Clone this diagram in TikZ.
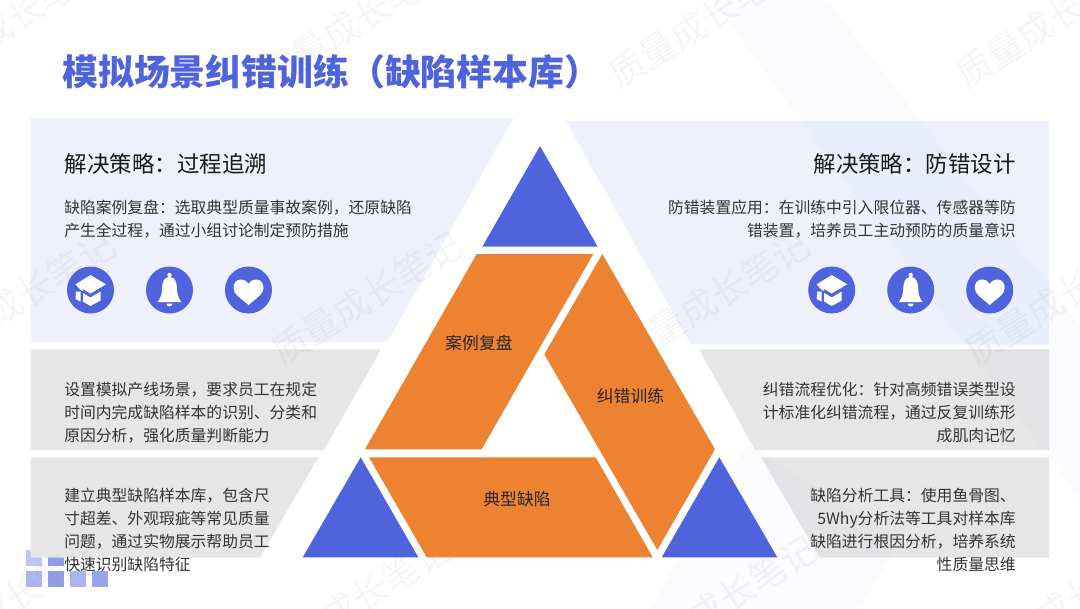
\documentclass[tikz,border=0pt]{standalone}
\usepackage{fontspec}
\setmainfont{Noto Sans CJK SC}
\usepackage{tikz}
\usetikzlibrary{positioning}

\definecolor{mainblue}{HTML}{4F63DC}
\definecolor{mainorange}{HTML}{ED8231}
\definecolor{panelblue}{HTML}{EEF0FC}
\definecolor{panelgray}{HTML}{E6E6E6}

\begin{document}
\begin{tikzpicture}[
    x=0.75pt, y=-0.75pt,
    node distance=23.6pt,
    panel/.style={fill=panelblue},
    graypanel/.style={fill=panelgray},
    tri/.style={fill=mainblue},
    piece/.style={fill=mainorange},
    band/.style={fill=mainblue, opacity=0.018},
    title/.style={inner sep=0pt, anchor=west, text=mainblue, font=\bfseries\fontsize{26.9}{30}\selectfont},
    head/.style={inner sep=0pt, text=black!90, font=\fontsize{16.85}{20}\selectfont},
    body/.style={inner sep=0pt, text=black!80, font=\fontsize{11.85}{17.25}\selectfont},
    piecelabel/.style={inner sep=0pt, text=black!85, font=\fontsize{12.6}{15}\selectfont},
    wmark/.style={inner sep=0pt, anchor=west, rotate=32, text=gray, text opacity=0.08, font=\fontsize{27}{30}\selectfont},
    iconbg/.style={circle, fill=mainblue, minimum size=35.25pt, inner sep=0pt},
    square/.style={minimum size=12pt, inner sep=0pt},
    cap/.pic={
        \fill[white] (0,-15) -- (15.5,-5.7) -- (0,3.5) -- (-7.5,-1) -- (-7.5,1) -- (-10,0) -- (-15,-5.7) -- cycle;
        \fill[white] (-10,1.5) -- (-10,11.5) -- (-15,9) -- (-14.5,1.5) -- cycle;
        \fill[white] (-7.5,3) -- (0,7.5) -- (10,1.5) -- (10,10.5) -- (0,16) -- (-7.5,11.5) -- cycle;
    },
    bell/.pic={
        \fill[white] (-12,12) .. controls (-7,6) and (-8,2) .. (-7,-6) .. controls (-6,-12) and (-2,-13) .. (0,-13)
            .. controls (2,-13) and (6,-12) .. (7,-6) .. controls (8,2) and (7,6) .. (12,12) -- cycle;
        \fill[white] (0,-15) circle (2.2);
        \fill[white] (-3,13.5) arc (180:0:3) -- cycle;
    },
    heart/.pic={
        \fill[white] (0,15) .. controls (-8,8) and (-15,4) .. (-15,-2) .. controls (-15,-12) and (-4,-13) .. (0,-6)
            .. controls (4,-13) and (15,-12) .. (15,-2) .. controls (15,4) and (8,8) .. (0,15) -- cycle;
    }
]
\useasboundingbox (0,0) rectangle (1080,608);
\fill[white] (0,0) rectangle (1080,608);

% corner squares
\node[square, fill=mainblue!38] (sqa) at (34,558) {};
\node[square, fill=mainblue!62] (sqb) at (56,558) {};
\node[square, fill=mainblue!48] (sqc) at (34,579) {};
\node[square, fill=mainblue!62] (sqd) at (56,579) {};
\node[square, fill=mainblue!48] (sqe) at (78,579) {};
\node[square, fill=mainblue!58] (sqf) at (100,579) {};

% panels
\fill[panel] (30.7,118.3) -- (513.3,118.3) -- (387.3,342.3) -- (30.7,342.3) -- cycle;
\fill[panel] (565.7,120.7) -- (1049,120.7) -- (1049,344.3) -- (690.7,344.3) -- cycle;
\fill[graypanel] (30.7,349.3) -- (381,349.3) -- (324,450) -- (30.7,450) -- cycle;
\fill[graypanel] (30.7,457.3) -- (318.3,457.3) -- (260,557.7) -- (30.7,557.7) -- cycle;
\fill[graypanel] (699,349.3) -- (1049,349.3) -- (1049,450) -- (755,450) -- cycle;
\fill[graypanel] (761,457.3) -- (1049,457.3) -- (1049,557.7) -- (820,557.7) -- cycle;

% faint bands
\fill[band] (712,0) -- (827,0) -- (1080,326) -- (1080,500) -- cycle;
\fill[band] (747,443) -- (650,608) -- (860,608) -- (900,540) -- cycle;

% watermark
\foreach \wx/\wy [count=\i] in {-82/78, 265/78, 612/78, 959/78, -72/355, 275/355, 622/355, 969/355, -84/659, 263/659, 630/659, 977/659}
    \node[wmark] (wm\i) at (\wx,\wy) {质量成长笔记};

% triangles
\fill[tri] (540,146) -- (597.7,246.7) -- (482.3,246.7) -- cycle;
\fill[tri] (360.7,457.3) -- (418.3,557.3) -- (302.7,557.3) -- cycle;
\fill[tri] (719.3,457.3) -- (777.3,557.3) -- (661.7,557.3) -- cycle;

% orange pieces
\fill[piece] (476.7,254) -- (593.3,254) -- (481.7,449.3) -- (365,449.3) -- cycle;
\fill[piece] (602.3,254) -- (715,449.3) -- (657.3,550) -- (544.3,354.3) -- cycle;
\fill[piece] (369,457.3) -- (595.7,457.3) -- (652.7,557.3) -- (426.7,557.3) -- cycle;

\node[piecelabel] (caseLabel) at (479,343.5) {案例复盘};
\node[piecelabel] (fixLabel) at (630.5,396.5) {纠错训练};
\node[piecelabel] (defectLabel) at (517,499.5) {典型缺陷};

\node[title] (mainTitle) at (62,72) {模拟场景纠错训练（缺陷样本库）};

% left column
\node[head, anchor=west] (headL) at (64.5,164) {解决策略：过程追溯};
\node[body, anchor=west, align=left] (bodyA) at (64,219.5) {缺陷案例复盘：选取典型质量事故案例，还原缺陷\\产生全过程，通过小组讨论制定预防措施};
\node[body, anchor=west, align=left] (bodyB) at (64,413) {设置模拟产线场景，要求员工在规定\\时间内完成缺陷样本的识别、分类和\\原因分析，强化质量判断能力};
\node[body, anchor=west, align=left] (bodyC) at (64,529.5) {建立典型缺陷样本库，包含尺\\寸超差、外观瑕疵等常见质量\\问题，通过实物展示帮助员工\\快速识别缺陷特征};

% right column
\node[head, anchor=east] (headR) at (1016,164) {解决策略：防错设计};
\node[body, anchor=east, align=right] (bodyD) at (1016,219.5) {防错装置应用：在训练中引入限位器、传感器等防\\错装置，培养员工主动预防的质量意识};
\node[body, anchor=east, align=right] (bodyE) at (1016,413) {纠错流程优化：针对高频错误类型设\\计标准化纠错流程，通过反复训练形\\成肌肉记忆};
\node[body, anchor=east, align=right] (bodyF) at (1016,529.5) {缺陷分析工具：使用鱼骨图、\\5Why分析法等工具对样本库\\缺陷进行根因分析，培养系统\\性质量思维};

% icons
\node[iconbg] (capL) at (90.5,290) {};
\node[iconbg] (bellL) [right=of capL] {};
\node[iconbg] (heartL) [right=of bellL] {};
\node[iconbg] (capR) at (831.7,290) {};
\node[iconbg] (bellR) [right=of capR] {};
\node[iconbg] (heartR) [right=of bellR] {};
\pic at (capL) {cap};
\pic at (bellL) {bell};
\pic at (heartL) {heart};
\pic at (capR) {cap};
\pic at (bellR) {bell};
\pic at (heartR) {heart};
\end{tikzpicture}
\end{document}
